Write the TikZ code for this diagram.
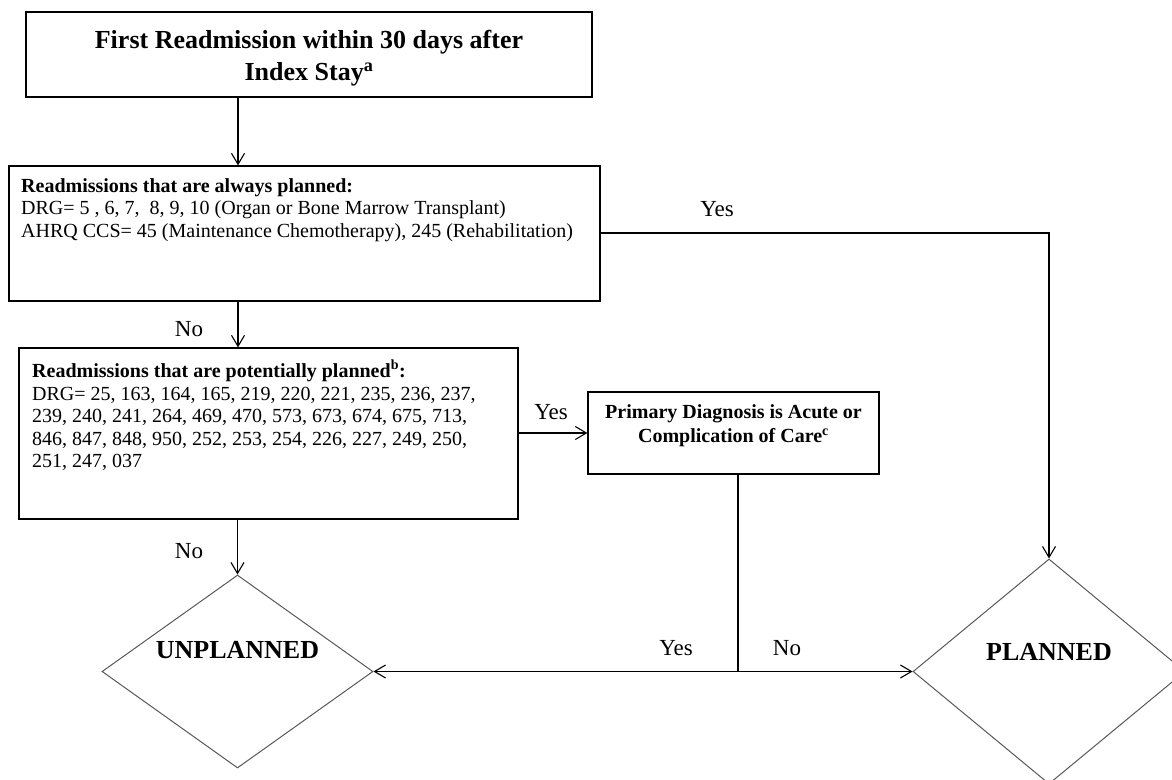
\documentclass[tikz,border=0pt]{standalone}
\usepackage{fontspec}
\setmainfont{Liberation Serif}
\usetikzlibrary{arrows.meta,shapes.geometric}

\begin{document}
\begin{tikzpicture}[x=1pt,y=-1pt,
  box/.style={draw=black, line width=1.2pt, inner sep=0pt, rectangle},
  dia/.style={draw=black!65, line width=1pt, diamond, inner sep=0pt},
  arr/.style={draw=black, line width=1.1pt, -{Straight Barb[length=11pt,width=13pt,line width=1.1pt]}},
  conn/.style={draw=black, line width=1.1pt},
  lbl/.style={inner sep=0pt, font=\fontsize{23}{26}\selectfont},
  body/.style={inner sep=0pt, align=left, anchor=north west, font=\fontsize{20}{22.6}\selectfont},
  head/.style={inner sep=0pt, align=center, font=\bfseries\fontsize{26}{32}\selectfont},
  result/.style={inner sep=0pt, font=\bfseries\fontsize{26}{30}\selectfont},
]
\useasboundingbox[fill=white] (0,0) rectangle (1172,779);

% boxes
\node[box, minimum width=566, minimum height=85] (b1) at (309,54.5) {};
\node[box, minimum width=591, minimum height=135] (b2) at (304.5,233.5) {};
\node[box, minimum width=499, minimum height=171] (b3) at (268.5,433.5) {};
\node[box, minimum width=291, minimum height=82] (b4) at (733.5,433) {};

% outcomes
\node[dia, minimum width=271, minimum height=193] (un) at (237.5,671.5) {};
\node[dia, minimum width=272, minimum height=225] (pl) at (1049,671.5) {};

% texts
\node[head] (t1) at (309,58) {First Readmission within 30 days after\\Index Stay\textsuperscript{a}};
\node[body] (t2) at (21,178) {\textbf{Readmissions that are always planned:}\\
DRG= 5 , 6, 7,\ \ 8, 9, 10 (Organ or Bone Marrow Transplant)\\
AHRQ CCS= 45 (Maintenance Chemotherapy), 245 (Rehabilitation)};
\node[body] (t3) at (32,360) {\textbf{Readmissions that are potentially planned\textsuperscript{b}:}\\
DRG= 25, 163, 164, 165, 219, 220, 221, 235, 236, 237,\\
239, 240, 241, 264, 469, 470, 573, 673, 674, 675, 713,\\
846, 847, 848, 950, 252, 253, 254, 226, 227, 249, 250,\\
251, 247, 037};
\node[inner sep=0pt, align=center, font=\bfseries\fontsize{20}{24}\selectfont] (t4) at (733.5,426) {Primary Diagnosis is Acute or\\Complication of Care\textsuperscript{c}};
\node[result] (tu) at (237.5,650) {UNPLANNED};
\node[result] (tp) at (1049,652) {PLANNED};

% connectors
\coordinate (xa) at (238,0);
\coordinate (ya) at (0,233);
\coordinate (j) at (738,671.5);
\draw[arr] (b1.south -| xa) -- (b2.north -| xa);
\draw[arr] (b2.south -| xa) -- (b3.north -| xa);
\draw[arr] (b2.east |- ya) -| (pl.north);
\draw[arr] (b3.east |- b4.west) -- (b4.west);
\draw[arr] (b3.south -| un.north) -- (un.north);
\draw[conn] (b4.south -| j) -- (j);
\draw[arr] (j) -- (un.east);
\draw[arr] (j) -- (pl.west);

% branch labels
\node[lbl] (l1) at (189,329) {No};
\node[lbl] (l2) at (717,209) {Yes};
\node[lbl] (l3) at (551,412) {Yes};
\node[lbl] (l4) at (189,551) {No};
\node[lbl] (l5) at (676,648) {Yes};
\node[lbl] (l6) at (787,648) {No};
\end{tikzpicture}
\end{document}
